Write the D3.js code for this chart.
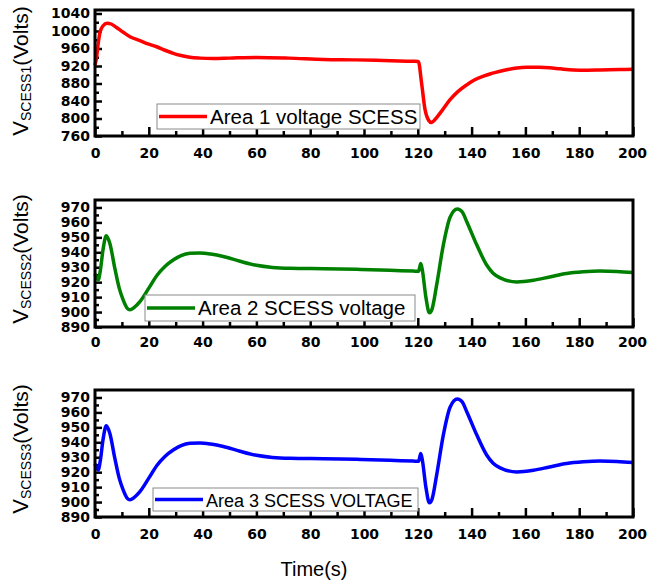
<!DOCTYPE html>
<html lang="en">
<head>
<meta charset="UTF-8">
<title>SCESS voltages</title>
<script src="https://cdn.jsdelivr.net/npm/d3@7"></script>
<style>
  body { margin: 0; background: #fff; }
  svg { display: block; }
</style>
</head>
<body>
<script>
// time (s) and voltage readings for each area
const t1 = [0, 0.6, 1.2, 1.9, 3, 4.5, 6, 8, 10.5, 13, 16.7, 20, 22.9, 26, 29.1, 32, 35.3, 39, 44, 50, 60, 72, 85, 97, 110, 118, 120.2,
            121.4, 122.7, 124, 125, 126, 127, 129, 132, 135, 138.2, 141, 144.4, 147.5, 150.6, 153.5, 156.8, 160.5, 165, 169, 173, 177.8, 183, 187.7, 195, 200];
const v1 = [922, 940, 972, 998, 1012, 1018, 1016, 1008, 997, 987, 978, 970, 964, 956, 949, 944, 940, 938, 937, 938, 939.5, 938, 935, 934, 932, 931, 930.5,
            881, 820, 796, 791, 795, 802, 818, 843, 862, 877, 888, 897, 903, 908, 912, 915.5, 917, 917, 916, 913.5, 911, 910.5, 911, 912, 912.5];

const t2 = [0, 1.2, 2, 3, 4.2, 5.5, 7.4, 9, 10.5, 12, 13, 14.5, 16.7, 20, 23, 26, 29.2, 32, 35.3, 39, 43, 47.7, 53.9, 60, 66, 72.5, 85, 97.3, 109.7, 118.3, 120.3,
            121.1, 121.7, 123, 124.3, 125.3, 127, 129.5, 132, 134.7, 136.5, 138.2, 141.9, 145.6, 148, 150.6, 156.8, 163, 169, 175.3, 181.5, 187.7, 194, 200];
const v2 = [925.5, 921.5, 928, 942, 951, 946, 929, 916, 908, 902.5, 901.5, 903, 907, 916, 924.5, 930.5, 935, 937.8, 939.3, 939.5, 938.8, 937.2, 934, 931.3, 929.9, 929.3, 929, 928.6, 928, 927.4, 927.3,
            932.5, 928, 910, 899.5, 902, 918, 945, 963.5, 969, 967, 960.5, 945, 931.5, 926, 922.9, 920.2, 921.3, 923.5, 925.8, 926.9, 927.4, 927.2, 926.5];

const t3 = [0, 1.2, 2, 3, 4.2, 5.5, 7.4, 9, 10.5, 12, 13, 14.5, 16.7, 20, 23, 26, 29.2, 32, 35.3, 39, 43, 47.7, 53.9, 60, 66, 72.5, 85, 97.3, 109.7, 118.3, 120.3,
            121.1, 121.7, 123, 124.3, 125.3, 127, 129.5, 132, 134.7, 136.5, 138.2, 141.9, 145.6, 148, 150.6, 156.8, 163, 169, 175.3, 181.5, 187.7, 194, 200];
const v3 = [925.5, 921.5, 928, 942, 951, 946, 929, 916, 908, 902.5, 901.5, 903, 907, 916, 924.5, 930.5, 935, 937.8, 939.3, 939.5, 938.8, 937.2, 934, 931.3, 929.9, 929.3, 929, 928.6, 928, 927.4, 927.3,
            932.5, 928, 910, 899.5, 902, 918, 945, 963.5, 969, 967, 960.5, 945, 931.5, 926, 922.9, 920.2, 921.3, 923.5, 925.8, 926.9, 927.4, 927.2, 926.5];

const xTicks = [0, 20, 40, 60, 80, 100, 120, 140, 160, 180, 200];
const xMinor = [10, 30, 50, 70, 90, 110, 130, 150, 170, 190];
const yTicks1 = [760, 800, 840, 880, 920, 960, 1000, 1040];
const yTicks23 = [890, 900, 910, 920, 930, 940, 950, 960, 970];
const legendNames = ["Area 1 voltage SCESS", "Area 2 SCESS voltage", "Area 3 SCESS VOLTAGE"];
const subNames = ["SCESS1", "SCESS2", "SCESS3"];

const width = 647, height = 585;
const left = 95, right = 633;

const panels = [
  {t: t1, v: v1, color: "#ff0000", top: 10, bottom: 136, domain: [760, 1048], ticks: yTicks1, minorStep: 20,
   labelY: 71, legend: {x: 157, y: 104, w: 263, h: 25, fs: 20.5}},
  {t: t2, v: v2, color: "#008000", top: 200, bottom: 327, domain: [890, 975], ticks: yTicks23, minorStep: 5,
   labelY: 259, legend: {x: 145, y: 295, w: 270, h: 26, fs: 20.5}},
  {t: t3, v: v3, color: "#0000ff", top: 390, bottom: 517, domain: [890, 975], ticks: yTicks23, minorStep: 5,
   labelY: 449, legend: {x: 153, y: 488, w: 265, h: 23, fs: 18}}
];

const svg = d3.select("body").append("svg").attr("width", width).attr("height", height);
const x = d3.scaleLinear().domain([0, 200]).range([left, right]);

const styleText = a => a.selectAll("text").attr("font-family", "DejaVu Sans").attr("font-weight", "bold")
  .attr("font-size", 14).attr("fill", "#000");

panels.forEach((p, i) => {
  const y = d3.scaleLinear().domain(p.domain).range([p.bottom, p.top]);
  const g = svg.append("g");

  // minor ticks
  const yMinor = d3.range(p.domain[0] + p.minorStep, p.domain[1], p.minorStep * 2);
  g.append("g").attr("transform", `translate(0,${p.bottom})`)
    .call(d3.axisBottom(x).tickValues(xMinor).tickSize(-5).tickFormat(""))
    .call(a => a.select(".domain").remove())
    .call(a => a.selectAll("line").attr("stroke-width", 2.5));
  g.append("g").attr("transform", `translate(${left},0)`)
    .call(d3.axisLeft(y).tickValues(yMinor).tickSize(-4).tickFormat(""))
    .call(a => a.select(".domain").remove())
    .call(a => a.selectAll("line").attr("stroke-width", 2.5));

  // major ticks + labels
  g.append("g").attr("transform", `translate(0,${p.bottom})`)
    .call(d3.axisBottom(x).tickValues(xTicks).tickSize(-9).tickPadding(i === 1 ? 10 : 12).tickFormat(d3.format("d")))
    .call(a => a.select(".domain").remove())
    .call(a => a.selectAll("line").attr("stroke-width", 2.5))
    .call(styleText)
    .call(a => a.selectAll("text").filter(d => d === 200).attr("x", -1));
  g.append("g").attr("transform", `translate(${left},0)`)
    .call(d3.axisLeft(y).tickValues(p.ticks).tickSize(-7).tickPadding(5).tickFormat(d3.format("d")))
    .call(a => a.select(".domain").remove())
    .call(a => a.selectAll("line").attr("stroke-width", 2.5))
    .call(styleText);

  // curve
  const line = d3.line().x((d, k) => x(p.t[k])).y(d => y(d)).curve(d3.curveMonotoneX);
  g.append("path").attr("d", line(p.v)).attr("fill", "none")
    .attr("stroke", p.color).attr("stroke-width", 3.5).attr("stroke-linejoin", "round");

  // frame
  g.append("rect").attr("x", left).attr("y", p.top).attr("width", right - left).attr("height", p.bottom - p.top)
    .attr("fill", "none").attr("stroke", "#000").attr("stroke-width", 3);

  // legend
  const L = p.legend;
  const lg = g.append("g").attr("transform", `translate(${L.x},${L.y})`);
  lg.append("rect").attr("width", L.w).attr("height", L.h).attr("fill", "#fff")
    .attr("stroke", "#8a8a8a").attr("stroke-width", 1);
  lg.append("line").attr("x1", 2).attr("x2", 50).attr("y1", L.h / 2).attr("y2", L.h / 2)
    .attr("stroke", p.color).attr("stroke-width", 3.5);
  lg.append("text").attr("x", 53).attr("y", L.h / 2 + 7)
    .attr("font-family", "Liberation Sans, Arial, sans-serif").attr("font-size", L.fs)
    .text(legendNames[i]);

  // y label
  const yl = svg.append("text").attr("transform", `translate(28,${p.labelY}) rotate(-90)`)
    .attr("text-anchor", "middle").attr("font-family", "Liberation Sans, Arial, sans-serif").attr("fill", "#000");
  yl.append("tspan").attr("font-size", 22).text("V");
  yl.append("tspan").attr("font-size", 14).attr("dy", 3).text(subNames[i]);
  yl.append("tspan").attr("font-size", 21).attr("dy", -3).text("(Volts)");
});

svg.append("text").attr("x", 314).attr("y", 576).attr("text-anchor", "middle")
  .attr("font-family", "Liberation Sans, Arial, sans-serif").attr("font-size", 20).text("Time(s)");
</script>
</body>
</html>
